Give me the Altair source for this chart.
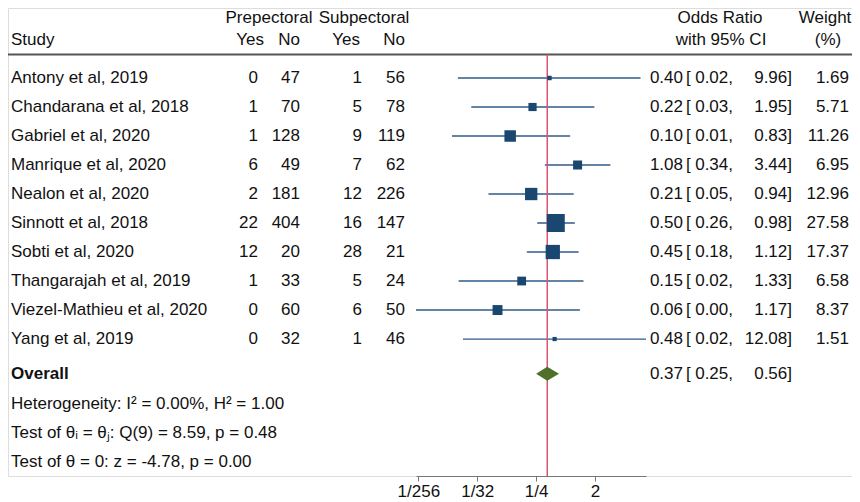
import altair as alt
import pandas as pd

# ---------------- data ----------------
studies = ["Antony et al, 2019", "Chandarana et al, 2018", "Gabriel et al, 2020",
           "Manrique et al, 2020", "Nealon et al, 2020", "Sinnott et al, 2018",
           "Sobti et al, 2020", "Thangarajah et al, 2019", "Viezel-Mathieu et al, 2020",
           "Yang et al, 2019"]
pre_yes = [0, 1, 1, 6, 2, 22, 12, 1, 0, 0]
pre_no = [47, 70, 128, 49, 181, 404, 20, 33, 60, 32]
sub_yes = [1, 5, 9, 7, 12, 16, 28, 5, 6, 1]
sub_no = [56, 78, 119, 62, 226, 147, 21, 24, 50, 46]
odds = [0.40, 0.22, 0.10, 1.08, 0.21, 0.50, 0.45, 0.15, 0.064, 0.48]
ci_lo = [0.0158, 0.0253, 0.0128, 0.34, 0.0465, 0.26, 0.18, 0.0162, 0.0036, 0.0189]
ci_hi = [9.96, 1.95, 0.83, 3.44, 0.94, 0.98, 1.12, 1.33, 1.17, 12.08]
weights = [1.69, 5.71, 11.26, 6.95, 12.96, 27.58, 17.37, 6.58, 8.37, 1.51]

overall_label = "Overall"
overall_or = 0.37
overall_lo = 0.25
overall_hi = 0.56
stats_lines = ["Heterogeneity: I\u00b2 = 0.00%, H\u00b2 = 1.00",
               "Test of \u03b8\u1d62 = \u03b8\u2c7c: Q(9) = 8.59, p = 0.48",
               "Test of \u03b8 = 0: z = -4.78, p = 0.00"]
x_ticks = [1 / 256, 1 / 32, 1 / 4, 2]

study_rows = list(range(10))
overall_row = 10.2
stats_rows = [11.24, 12.24, 13.24]

# ---------------- style ----------------
FONT = "Liberation Sans"
FS = 17
TXT = "#111111"
NAVY = "#1a476f"
CI_COL = "#2f5b86"
RED = "#d9546f"
GREEN = "#4f6f2a"

XS = alt.Scale(type="log", base=2, domain=[0.0036, 12.08], range=[408, 638], nice=False)
YS = alt.Scale(domain=[0, 13.24], range=[70, 454])
AX = alt.Axis(values=x_ticks, title=None, grid=False,
              labelExpr="datum.value < 1 ? '1/' + round(1/datum.value) : '' + datum.value",
              domainColor="#777777", tickColor="#777777", tickSize=5, domainWidth=1.2,
              labelFontSize=FS, labelFont=FONT, labelColor=TXT, labelPadding=2)


def xenc(field):
    return alt.X(field, type="quantitative", scale=XS, axis=AX)


def yenc(field="row"):
    return alt.Y(field, type="quantitative", scale=YS, axis=None)


df = pd.DataFrame({
    "study": studies, "pre_yes": pre_yes, "pre_no": pre_no,
    "sub_yes": sub_yes, "sub_no": sub_no, "or": odds, "lo": ci_lo,
    "hi": ci_hi, "w": weights, "row": study_rows,
})
df["or_s"] = df["or"].map(lambda v: f"{v:.2f}")
df["lo_s"] = df["lo"].map(lambda v: f"{v:.2f},")
df["hi_s"] = df["hi"].map(lambda v: f"{v:.2f}]")
df["w_s"] = df["w"].map(lambda v: f"{v:.2f}")

ov = pd.DataFrame({"label": [overall_label], "or": [overall_or], "lo": [overall_lo],
                   "hi": [overall_hi], "row": [overall_row]})
ov["or_s"] = ov["or"].map(lambda v: f"{v:.2f}")
ov["lo_s"] = ov["lo"].map(lambda v: f"{v:.2f},")
ov["hi_s"] = ov["hi"].map(lambda v: f"{v:.2f}]")

st = pd.DataFrame({"t": stats_lines, "row": stats_rows})

# diamond polygon built from the overall estimate
half = 0.24
dia = pd.DataFrame({"x": [overall_lo, overall_or, overall_hi],
                    "y": [overall_row, overall_row - half, overall_row],
                    "y2": [overall_row, overall_row + half, overall_row]})


def col_text(data, field, x, align="right", bold=False):
    return alt.Chart(data).mark_text(
        align=align, baseline="middle", font=FONT, fontSize=FS, color=TXT,
        fontWeight="bold" if bold else "normal"
    ).encode(x=alt.value(x), y=yenc(), text=alt.Text(field, type="nominal"))


def label(txt, x, y, align="left"):
    return alt.Chart(pd.DataFrame({"t": [txt]})).mark_text(
        align=align, baseline="middle", font=FONT, fontSize=FS, color=TXT
    ).encode(x=alt.value(x), y=alt.value(y), text="t:N")


layers = []

# header
layers += [
    label("Prepectoral", 261, 10, "center"),
    label("Subpectoral", 356, 10, "center"),
    label("Study", 3, 32),
    label("Yes", 256, 32, "right"),
    label("No", 292, 32, "right"),
    label("Yes", 352, 32, "right"),
    label("No", 397, 32, "right"),
    label("Odds Ratio", 712, 10, "center"),
    label("with 95% CI", 713, 32, "center"),
    label("Weight", 817, 10, "center"),
    label("(%)", 820, 32, "center"),
]
layers.append(
    alt.Chart(pd.DataFrame({"a": [0]})).mark_rule(color="#555555", strokeWidth=2).encode(
        x=alt.value(0), x2=alt.value(844), y=alt.value(46.5))
)

# CI lines
layers.append(
    alt.Chart(df).mark_rule(color=CI_COL, strokeWidth=1.3).encode(
        x=xenc("lo"), x2="hi", y=yenc())
)
# overall reference line
layers.append(
    alt.Chart(ov).mark_rule(color=RED, strokeWidth=1.5).encode(
        x=xenc("or"), y=alt.value(46.5), y2=alt.value(468))
)
# weight squares
layers.append(
    alt.Chart(df).mark_square(color=NAVY, opacity=1, strokeWidth=0).encode(
        x=xenc("or"), y=yenc(),
        size=alt.Size("w:Q", scale=alt.Scale(domain=[0, 30], range=[0, 352]), legend=None))
)
# diamond
layers.append(
    alt.Chart(dia).mark_area(color=GREEN, orient="vertical", opacity=1).encode(
        x=xenc("x"), y=yenc("y"), y2="y2")
)

# table columns
layers += [
    col_text(df, "study", 3, "left"),
    col_text(df, "pre_yes", 250),
    col_text(df, "pre_no", 292),
    col_text(df, "sub_yes", 354),
    col_text(df, "sub_no", 397),
    col_text(df, "or_s", 675),
    col_text(df, "lo_s", 725),
    col_text(df, "hi_s", 784),
    col_text(df, "w_s", 841),
    col_text(ov, "label", 3, "left", bold=True),
    col_text(ov, "or_s", 675),
    col_text(ov, "lo_s", 725),
    col_text(ov, "hi_s", 784),
    col_text(st, "t", 3, "left"),
]
bracket = df[["row"]].assign(b="[")
layers.append(col_text(bracket, "b", 678, "left"))
layers.append(col_text(ov[["row"]].assign(b="["), "b", 678, "left"))

chart = alt.layer(*layers).properties(
    width=844, height=468,
    autosize=alt.AutoSizeParams(type="none"),
    padding={"left": 0, "top": 0, "right": 0, "bottom": 26},
).configure_view(stroke=None).configure(background="white")

chart.save("out.html", embed_options={"renderer": "svg", "actions": False})
